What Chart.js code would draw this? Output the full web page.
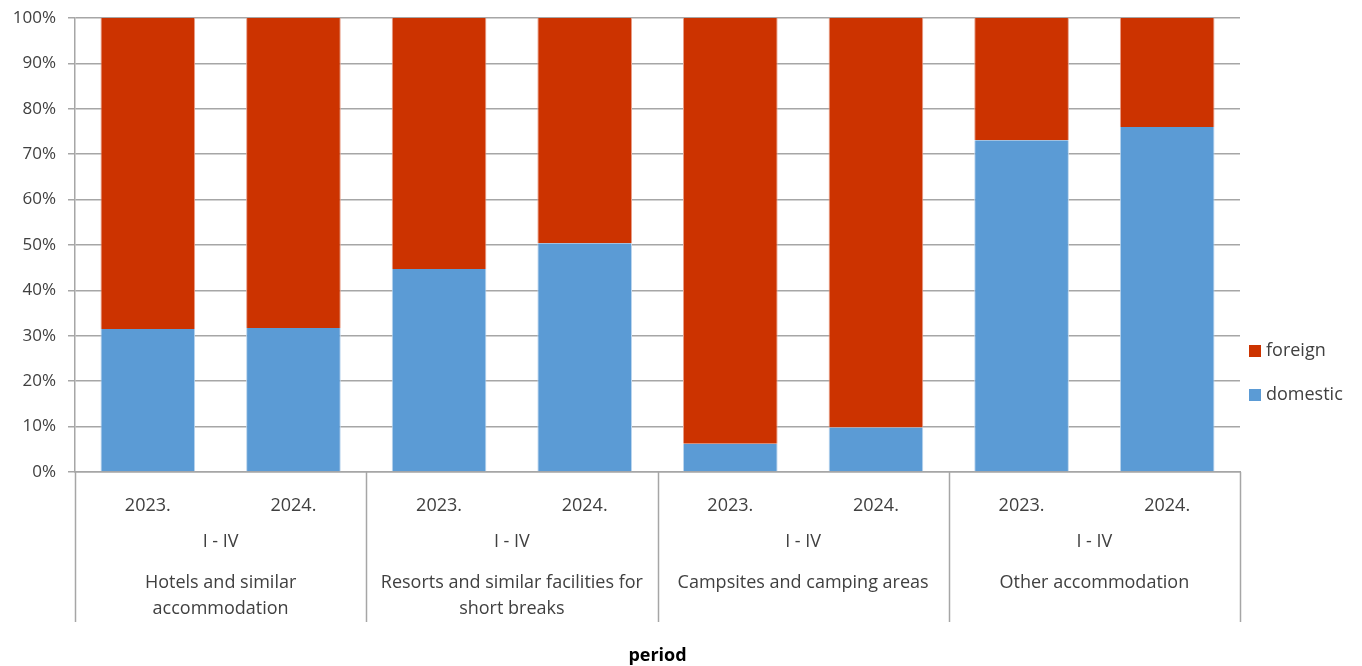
<!DOCTYPE html>
<html>
<head>
<meta charset="utf-8">
<script src="https://cdn.jsdelivr.net/npm/chart.js@4/dist/chart.umd.min.js"></script>
<style>
  html, body { margin: 0; padding: 0; background: #fff; }
  #wrap { width: 1362px; height: 666px; }
</style>
</head>
<body>
<div id="wrap"><canvas id="chart" width="1362" height="666"></canvas></div>
<script>
// Adatok
const years = ['2023.', '2024.', '2023.', '2024.', '2023.', '2024.', '2023.', '2024.'];
const periods = ['I - IV', 'I - IV', 'I - IV', 'I - IV'];
const groups = [
  ['Hotels and similar', 'accommodation'],
  ['Resorts and similar facilities for', 'short breaks'],
  ['Campsites and camping areas'],
  ['Other accommodation'],
];
const domestic = [31.5, 31.7, 44.7, 50.4, 6.2, 9.8, 73.1, 76.0];
const foreign = [68.5, 68.3, 55.3, 49.6, 93.8, 90.2, 26.9, 24.0];
const yTicks = [0, 10, 20, 30, 40, 50, 60, 70, 80, 90, 100];

const FONT = '"Open Sans", "DejaVu Sans", sans-serif';
const TXT = '#404040';
const GRID = '#a6a6a6';

// Csoport feliratok, elválasztók, tengelycím, jelmagyarázat
const extrasPlugin = {
  id: 'extras',
  afterDraw(chart) {
    const { ctx, chartArea, scales } = chart;
    const x = scales.x;
    const slot = x.width / years.length;
    ctx.save();

    // függőleges elválasztók
    ctx.strokeStyle = GRID;
    ctx.lineWidth = 1.5;
    for (let i = 0; i <= years.length; i += 2) {
      const px = Math.round(x.left + i * slot) + 0.5;
      ctx.beginPath();
      ctx.moveTo(px, chartArea.bottom);
      ctx.lineTo(px, chartArea.bottom + 150);
      ctx.stroke();
    }

    ctx.fillStyle = TXT;
    ctx.font = '18px ' + FONT;
    ctx.textAlign = 'center';
    ctx.textBaseline = 'middle';
    groups.forEach((lines, g) => {
      const cx = (x.getPixelForValue(g * 2) + x.getPixelForValue(g * 2 + 1)) / 2;
      ctx.fillText(periods[g], cx, chartArea.bottom + 70);
      lines.forEach((t, k) => ctx.fillText(t, cx, chartArea.bottom + 111 + k * 26));
    });

    // tengelycím
    ctx.font = 'bold 18px ' + FONT;
    ctx.fillStyle = '#000';
    ctx.fillText('period', (chartArea.left + chartArea.right) / 2, 656);

    // jelmagyarázat (fordított sorrend)
    ctx.font = '18px ' + FONT;
    ctx.textAlign = 'left';
    const items = chart.data.datasets.slice().reverse();
    items.forEach((ds, i) => {
      const y = 351 + i * 44;
      ctx.fillStyle = ds.backgroundColor;
      ctx.fillRect(1249, y - 6, 12, 12);
      ctx.fillStyle = TXT;
      ctx.fillText(ds.label, 1266, y);
    });
    ctx.restore();
  },
};

const data = {
  labels: years,
  datasets: [
    {
      label: 'domestic',
      data: domestic,
      backgroundColor: '#5b9bd5',
      borderColor: '#bcd6ee',
      borderWidth: { left: 1, right: 1, top: 0, bottom: 0 },
      categoryPercentage: 1,
      barPercentage: 0.65,
    },
    {
      label: 'foreign',
      data: foreign,
      backgroundColor: '#cc3300',
      borderColor: '#e8a08a',
      borderWidth: { left: 1, right: 1, top: 0, bottom: 0 },
      categoryPercentage: 1,
      barPercentage: 0.65,
    },
  ],
};

const options = {
  responsive: false,
  animation: false,
  devicePixelRatio: 1,
  layout: { padding: { top: 18, right: 122, bottom: 0, left: 0 } },
  plugins: {
    legend: { display: false },
    tooltip: { enabled: false },
  },
  scales: {
    x: {
      stacked: true,
      grid: { display: false },
      border: { display: true, color: GRID, width: 1.5 },
      ticks: { color: TXT, font: { family: FONT, size: 18 }, padding: 15, maxRotation: 0, autoSkip: false },
      afterFit(s) { s.height = 194; },
    },
    y: {
      stacked: true,
      min: 0,
      max: 100,
      afterBuildTicks(s) { s.ticks = yTicks.map(v => ({ value: v })); },
      grid: { color: GRID, lineWidth: 1.5, tickLength: 7 },
      border: { display: true, color: GRID, width: 1.5 },
      ticks: {
        color: TXT,
        font: { family: FONT, size: 17 },
        padding: 12,
        callback: v => v + '%',
      },
      afterFit(s) {
        s.width = 75;
        s.paddingTop = 0;
        s.paddingBottom = 0;
      },
    },
  },
};

new Chart(document.getElementById('chart'), { type: 'bar', data, options, plugins: [extrasPlugin] });
</script>
</body>
</html>
